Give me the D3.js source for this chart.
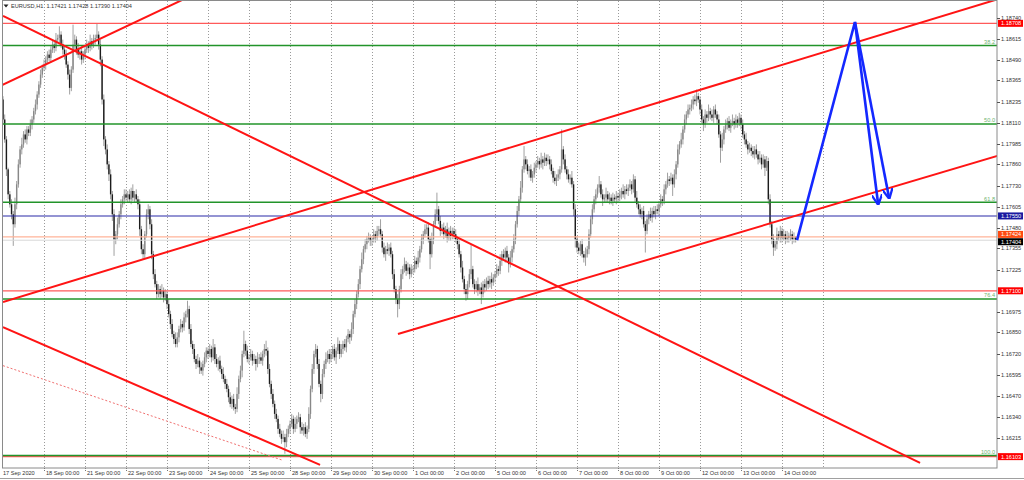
<!DOCTYPE html>
<html><head><meta charset="utf-8">
<script src="https://cdn.jsdelivr.net/npm/d3@7"></script>
<style>html,body{margin:0;padding:0;background:#fff;}svg{display:block;}</style>
</head><body>
<svg id="c" width="1024" height="480"></svg>
<script>
// ---------- DATA ----------
const symbolTitle = "EURUSD,H1";
const lastOHLC = ["1.17421", "1.17428", "1.17390", "1.17404"];
const dayLabels = ["17 Sep 2020","18 Sep 00:00","21 Sep 00:00","22 Sep 00:00","23 Sep 00:00","24 Sep 00:00","25 Sep 00:00","28 Sep 00:00","29 Sep 00:00","30 Sep 00:00","1 Oct 00:00","2 Oct 00:00","5 Oct 00:00","6 Oct 00:00","7 Oct 00:00","8 Oct 00:00","9 Oct 00:00","12 Oct 00:00","13 Oct 00:00","14 Oct 00:00"];
const barsPerDay = 24;
const priceTicks = [1.18740,1.18615,1.18490,1.18365,1.18235,1.18110,1.17985,1.17860,1.17730,1.17605,1.17480,1.17355,1.17225,1.16975,1.16850,1.16720,1.16595,1.16470,1.16340,1.16215];
const firstOpen = 1.1825;
const closes = [
1.1813,1.1801,1.1783,1.1768,1.1762,1.1756,1.1750,1.1762,1.1774,1.1786,1.1795,1.1798,1.1804,1.1801,1.1807,1.1805,1.1810,1.1813,1.1818,1.1822,1.1828,1.1834,1.1840,1.1844,
1.1846,1.1849,1.1852,1.1850,1.1855,1.1858,1.1856,1.1861,1.1862,1.1864,1.1858,1.1855,1.1852,1.1846,1.1840,1.1832,1.1843,1.1858,1.1861,1.1855,1.1852,1.1854,1.1849,1.1852,
1.1855,1.1858,1.1856,1.1860,1.1858,1.1861,1.1862,1.1864,1.1858,1.1849,1.1825,1.1801,1.1795,1.1786,1.1780,1.1768,1.1756,1.1741,1.1744,1.1750,1.1756,1.1762,1.1765,1.1768,
1.1766,1.1768,1.1765,1.1770,1.1766,1.1768,1.1765,1.1762,1.1747,1.1735,1.1732,1.1744,1.1756,1.1759,1.1750,1.1732,1.1720,1.1714,1.1708,1.1711,1.1708,1.1710,1.1706,1.1708,
1.1702,1.1696,1.1690,1.1684,1.1681,1.1678,1.1682,1.1687,1.1690,1.1688,1.1694,1.1696,1.1699,1.1687,1.1678,1.1675,1.1669,1.1666,1.1668,1.1664,1.1662,1.1666,1.1670,1.1674,
1.1672,1.1675,1.1670,1.1676,1.1669,1.1666,1.1668,1.1663,1.1660,1.1657,1.1654,1.1651,1.1646,1.1642,1.1645,1.1640,1.1639,1.1648,1.1657,1.1662,1.1672,1.1678,1.1674,1.1669,
1.1670,1.1672,1.1668,1.1669,1.1666,1.1669,1.1670,1.1668,1.1672,1.1675,1.1674,1.1663,1.1654,1.1648,1.1642,1.1636,1.1633,1.1627,1.1624,1.1621,1.1622,1.1619,1.1624,1.1627,
1.1630,1.1633,1.1627,1.1630,1.1633,1.1634,1.1628,1.1626,1.1628,1.1624,1.1627,1.1636,1.1651,1.1663,1.1672,1.1675,1.1666,1.1654,1.1648,1.1660,1.1666,1.1669,1.1672,1.1669,
1.1672,1.1675,1.1670,1.1674,1.1678,1.1672,1.1675,1.1678,1.1676,1.1681,1.1684,1.1682,1.1687,1.1696,1.1702,1.1708,1.1714,1.1723,1.1729,1.1735,1.1738,1.1741,1.1742,1.1740,
1.1741,1.1744,1.1742,1.1746,1.1747,1.1744,1.1736,1.1732,1.1735,1.1734,1.1736,1.1732,1.1720,1.1711,1.1705,1.1702,1.1711,1.1720,1.1723,1.1726,1.1722,1.1724,1.1720,1.1723,
1.1723,1.1728,1.1726,1.1730,1.1735,1.1741,1.1744,1.1747,1.1748,1.1741,1.1732,1.1741,1.1750,1.1756,1.1759,1.1752,1.1746,1.1748,1.1744,1.1747,1.1742,1.1746,1.1743,1.1746,
1.1744,1.1741,1.1738,1.1732,1.1724,1.1717,1.1711,1.1708,1.1714,1.1720,1.1723,1.1714,1.1711,1.1714,1.1710,1.1712,1.1708,1.1714,1.1712,1.1716,1.1714,1.1717,1.1715,1.1718,
1.1720,1.1723,1.1722,1.1728,1.1732,1.1730,1.1734,1.1730,1.1726,1.1730,1.1735,1.1741,1.1750,1.1758,1.1765,1.1772,1.1783,1.1789,1.1786,1.1782,1.1783,1.1778,1.1780,1.1784,
1.1786,1.1788,1.1786,1.1789,1.1787,1.1790,1.1788,1.1789,1.1786,1.1782,1.1778,1.1776,1.1778,1.1780,1.1783,1.1795,1.1789,1.1783,1.1780,1.1777,1.1778,1.1774,1.1759,1.1741,
1.1736,1.1734,1.1738,1.1732,1.1730,1.1732,1.1735,1.1744,1.1753,1.1759,1.1765,1.1768,1.1772,1.1774,1.1768,1.1765,1.1766,1.1768,1.1765,1.1766,1.1764,1.1766,1.1765,1.1767,
1.1766,1.1768,1.1770,1.1768,1.1771,1.1770,1.1772,1.1774,1.1771,1.1777,1.1766,1.1762,1.1759,1.1756,1.1758,1.1750,1.1746,1.1753,1.1756,1.1754,1.1758,1.1756,1.1759,1.1758,
1.1762,1.1765,1.1764,1.1771,1.1774,1.1777,1.1776,1.1778,1.1774,1.1780,1.1786,1.1795,1.1798,1.1801,1.1807,1.1813,1.1816,1.1819,1.1820,1.1822,1.1825,1.1824,1.1827,1.1825,
1.1819,1.1813,1.1810,1.1816,1.1814,1.1818,1.1816,1.1814,1.1819,1.1816,1.1813,1.1804,1.1796,1.1801,1.1807,1.1810,1.1812,1.1808,1.1811,1.1812,1.1810,1.1813,1.1811,1.1814,
1.1810,1.1804,1.1801,1.1798,1.1795,1.1796,1.1794,1.1792,1.1795,1.1792,1.1789,1.1790,1.1786,1.1789,1.1784,1.1788,1.1765,1.1750,1.1741,1.1736,1.1738,1.1744,1.1742,1.1746,
1.1742,1.1744,1.1741,1.1743,1.1742,1.1744,1.1741,1.17421,1.17404
];
// wick lengths in pips above / below the candle body
const upperWick = [
2,3,2,1,2,3,2,4,2,3,2,4,2,3,2,2,3,2,2,3,2,2,3,2,
3,2,2,3,2,3,2,4,2,5,2,3,2,3,2,3,2,12,3,2,4,2,3,2,
2,3,2,4,2,3,2,7,2,3,2,3,2,3,2,3,2,3,2,4,2,3,2,3,
3,2,3,2,4,2,3,2,3,2,3,2,3,3,2,3,2,3,2,3,2,4,2,3,
2,3,2,3,2,4,3,2,3,2,3,2,5,2,3,2,3,2,4,2,3,2,3,2,
2,3,2,5,2,3,2,3,2,4,2,3,2,3,2,3,2,4,2,3,2,8,2,3,
2,3,2,3,2,4,2,3,2,3,5,2,3,2,3,2,3,2,3,2,4,2,3,2,
2,3,2,4,2,3,2,3,2,3,2,4,2,3,2,3,2,3,2,3,2,4,2,3,
3,2,3,2,4,2,3,2,3,2,3,2,4,2,3,2,3,2,4,2,3,2,3,2,
2,3,2,3,2,6,2,3,2,4,2,3,2,3,2,3,2,3,2,4,2,3,2,3,
2,3,2,4,2,3,2,3,2,3,2,4,2,3,10,2,3,2,3,2,4,2,3,2,
2,3,2,3,2,4,2,3,2,3,15,2,3,2,4,2,3,2,3,2,3,2,4,2,
2,3,2,4,2,3,2,3,2,4,2,3,2,3,2,4,2,8,2,3,2,3,2,3,
2,3,2,4,2,3,2,3,2,3,2,4,2,3,2,12,2,3,2,3,2,4,2,3,
2,3,2,3,2,4,2,3,2,3,2,3,2,5,2,3,2,4,2,3,2,3,2,3,
2,3,2,4,2,3,2,3,2,3,2,4,2,3,2,3,2,3,2,4,2,3,2,3,
2,3,2,3,2,4,2,3,2,3,2,3,2,4,2,3,2,3,2,3,2,3,4,2,
2,3,2,3,2,4,2,3,2,3,2,3,2,4,2,3,2,3,2,4,2,3,2,3,
2,3,2,4,2,3,2,3,2,3,2,4,2,3,2,3,2,3,2,3,2,4,2,3,
2,3,2,3,2,3,2,3,0.7
];
const lowerWick = [
3,2,4,3,2,3,13,2,3,2,2,3,2,2,3,2,2,3,2,2,3,2,2,2,
2,3,2,2,3,2,3,2,2,3,2,3,3,2,3,4,2,2,3,3,2,3,3,2,
3,2,3,2,3,2,3,2,3,4,3,4,3,3,4,3,4,10,3,3,2,3,2,3,
2,3,2,3,2,3,2,3,4,3,3,3,2,3,3,3,3,2,3,2,3,2,3,2,
3,2,3,2,3,2,2,3,2,3,2,3,2,3,2,3,2,3,2,4,2,3,2,3,
3,2,3,2,3,2,4,2,3,2,3,2,3,2,3,2,3,2,3,2,4,2,3,2,
3,2,3,2,4,2,3,2,3,2,3,3,2,3,2,3,2,3,2,3,2,7,3,2,
3,2,3,2,3,2,4,2,3,2,3,2,3,2,3,2,3,2,5,3,2,3,2,3,
2,3,2,4,2,3,2,3,2,3,2,4,2,3,2,3,2,3,2,3,2,3,2,3,
3,2,3,2,3,2,3,2,4,2,3,2,3,2,3,8,3,2,3,2,3,2,3,2,
3,2,3,2,3,2,3,2,3,2,9,2,3,2,4,2,3,2,3,2,3,2,3,2,
3,2,3,2,3,2,3,4,3,2,3,2,3,2,3,2,6,2,3,2,3,2,4,2,
3,2,3,2,3,2,3,2,5,2,3,2,3,2,3,2,3,2,3,2,4,2,3,2,
3,2,3,2,4,2,3,2,3,2,3,2,3,2,3,2,3,2,3,2,3,2,4,5,
3,2,3,2,3,5,2,3,2,3,2,3,2,3,2,4,2,3,2,3,2,3,2,3,
3,2,3,2,3,2,3,2,3,2,3,2,3,2,3,2,13,2,3,2,3,2,3,2,
3,2,3,2,3,2,3,2,7,2,3,2,3,2,3,2,3,2,3,2,3,2,3,2,
3,2,4,2,3,2,3,2,3,2,3,2,9,2,3,2,3,2,3,2,3,2,3,2,
3,2,3,2,3,2,3,2,3,2,3,2,3,2,5,2,3,2,3,5,2,3,2,3,
3,2,3,2,3,2,3,2,1.4
];
const fibLabels = ["38.2", "50.0", "61.8", "76.4", "100.0"];
const fibPrices = [1.18575, 1.18103, 1.17632, 1.17051, 1.16110];
const redLevels = [1.18708, 1.17100, 1.16103];
const blueLevel = 1.17550;
const salmonLevel = 1.17424;
const salmonLabel = "1.17424";
const bidPrice = 1.17404;
// trend lines as [barIndex, price] endpoints
const trendLines = [
  [[-1.8, 1.18331], [104.8, 1.18848]],
  [[0, 1.18752], [536.8, 1.16065]],
  [[0, 1.16882], [185.6, 1.16053]],
  [[0, 1.17033], [580.7, 1.18848]],
  [[231.2, 1.16840], [589.5, 1.17934]]
];
const dottedLine = [[0, 1.16650], [164.0, 1.16080]];
const arrowPaths = [
  [[464.8, 1.17405], [498.7, 1.18716], [512.2, 1.17628]],
  [[498.7, 1.18716], [518.6, 1.17664]]
];

// ---------- CHART ----------
const W = 1024, H = 480;
const plot = {l: 3, r: 997, t: 1, b: 468};
const x = d3.scaleLinear().domain([0, barsPerDay]).range([3, 44]);
const y = d3.scaleLinear().domain([1.16215, 1.18740]).range([438, 18]);
const FONT = "'Liberation Sans', Arial, sans-serif";
const FS = 5.6;

const svg = d3.select('#c');
const defs = svg.append('defs');
defs.append('clipPath').attr('id', 'clip').append('rect')
  .attr('x', plot.l).attr('y', plot.t).attr('width', plot.r - plot.l).attr('height', plot.b - plot.t);
defs.append('marker').attr('id', 'arr').attr('viewBox', '0 0 10 10').attr('refX', 8).attr('refY', 5)
  .attr('markerWidth', 4).attr('markerHeight', 4).attr('orient', 'auto-start-reverse')
  .append('path').attr('d', 'M0,0 L10,5 L0,10').attr('fill', 'none').attr('stroke', '#1428ff').attr('stroke-width', 2.2);

svg.append('rect').attr('width', W).attr('height', H).attr('fill', '#fff');

const g = svg.append('g').attr('clip-path', 'url(#clip)');

// vertical dotted grid
const gridIdx = d3.range(1, dayLabels.length + 1);
g.selectAll('line.grid').data(gridIdx).join('line')
  .attr('x1', k => Math.round(x(k * barsPerDay)) + 0.5).attr('x2', k => Math.round(x(k * barsPerDay)) + 0.5)
  .attr('y1', plot.t).attr('y2', plot.b)
  .attr('stroke', '#9a9a9a').attr('stroke-width', 1).attr('stroke-dasharray', '1,2');

// candles
const bars = closes.map((c, i) => {
  const o = i === 0 ? firstOpen : closes[i - 1];
  const top = Math.max(o, c), bot = Math.min(o, c);
  return {i, o, c, h: top + upperWick[i] / 10000, l: bot - lowerWick[i] / 10000};
});
g.selectAll('line.wick').data(bars).join('line')
  .attr('x1', d => x(d.i)).attr('x2', d => x(d.i))
  .attr('y1', d => y(d.h)).attr('y2', d => y(d.l))
  .attr('stroke', '#a0a0a0').attr('stroke-width', 1);
g.selectAll('rect.body').data(bars).join('rect')
  .attr('x', d => x(d.i) - 0.7).attr('width', 1.4)
  .attr('y', d => y(Math.max(d.o, d.c)))
  .attr('height', d => Math.max(1, Math.abs(y(d.o) - y(d.c))))
  .attr('fill', d => d.c >= d.o ? '#888888' : '#1c1c1c');

// horizontal levels
function hline(p, color, w) {
  g.append('line').attr('x1', plot.l).attr('x2', plot.r).attr('y1', y(p)).attr('y2', y(p))
    .attr('stroke', color).attr('stroke-width', w);
}
hline(salmonLevel, '#ffb399', 1.3);
hline(bidPrice, '#d8d8d8', 1);
redLevels.forEach(p => hline(p, '#ff5a5a', 1.3));
fibPrices.forEach(p => hline(p, '#22942a', 1.5));
hline(blueLevel, '#2a2aa8', 1.1);

// fib labels
g.selectAll('text.fib').data(fibPrices).join('text')
  .attr('x', plot.r - 2).attr('y', d => y(d) - 1.5)
  .attr('text-anchor', 'end').attr('font-family', FONT).attr('font-size', FS)
  .attr('fill', '#6db36d').text((d, i) => fibLabels[i]);

// trend lines
const line = d3.line().x(d => x(d[0])).y(d => y(d[1]));
g.append('path').attr('d', line(dottedLine)).attr('fill', 'none')
  .attr('stroke', '#f07070').attr('stroke-width', 1).attr('stroke-dasharray', '2,2');
g.selectAll('path.trend').data(trendLines).join('path')
  .attr('d', line).attr('fill', 'none').attr('stroke', '#ff1414').attr('stroke-width', 2);

// blue arrows
g.selectAll('path.arrow').data(arrowPaths).join('path')
  .attr('d', line).attr('fill', 'none').attr('stroke', '#1428ff').attr('stroke-width', 2.6)
  .attr('stroke-linejoin', 'miter').attr('marker-end', 'url(#arr)');

// frame
svg.append('rect').attr('x', plot.l - 0.5).attr('y', plot.t - 0.5)
  .attr('width', plot.r - plot.l + 0.5).attr('height', plot.b - plot.t + 0.5)
  .attr('fill', 'none').attr('stroke', '#8a8a8a').attr('stroke-width', 1);
svg.append('line').attr('x1', 0).attr('x2', W).attr('y1', 478.5).attr('y2', 478.5)
  .attr('stroke', '#a0a0a0').attr('stroke-width', 1);

// right price axis
const ya = svg.append('g');
ya.selectAll('line.t').data(priceTicks).join('line')
  .attr('x1', plot.r).attr('x2', plot.r + 3).attr('y1', d => Math.round(y(d)) + 0.5).attr('y2', d => Math.round(y(d)) + 0.5)
  .attr('stroke', '#555').attr('stroke-width', 1);
ya.selectAll('text.t').data(priceTicks).join('text')
  .attr('x', plot.r + 4).attr('y', d => y(d)).attr('dy', '0.35em')
  .attr('font-family', FONT).attr('font-size', FS).attr('fill', '#333')
  .text(d => d.toFixed(5));

function priceBox(yy, bg, label) {
  ya.append('rect').attr('x', plot.r + 1).attr('y', yy - 3.5).attr('width', 25).attr('height', 7).attr('fill', bg);
  ya.append('text').attr('x', plot.r + 4).attr('y', yy).attr('dy', '0.35em')
    .attr('font-family', FONT).attr('font-size', FS).attr('fill', '#fff').text(label);
}
priceBox(y(redLevels[0]), '#ff0000', redLevels[0].toFixed(5));
priceBox(y(blueLevel), '#1a1aa0', blueLevel.toFixed(5));
priceBox(y(salmonLevel) - 2.5, '#ff4a10', salmonLabel);
priceBox(y(bidPrice) + 1.5, '#000000', bidPrice.toFixed(5));
priceBox(y(redLevels[1]), '#ff0000', redLevels[1].toFixed(5));
priceBox(y(redLevels[2]), '#ff0000', redLevels[2].toFixed(5));

// bottom time axis
const xa = svg.append('g');
xa.selectAll('line.t').data(gridIdx.slice(0, dayLabels.length - 1)).join('line')
  .attr('x1', k => Math.round(x(k * barsPerDay)) + 0.5).attr('x2', k => Math.round(x(k * barsPerDay)) + 0.5)
  .attr('y1', plot.b).attr('y2', plot.b + 3).attr('stroke', '#777').attr('stroke-dasharray', '1,1');
xa.selectAll('text.t').data(dayLabels).join('text')
  .attr('x', (d, k) => k === 0 ? 3 : x(k * barsPerDay) + 2)
  .attr('y', 475).attr('font-family', FONT).attr('font-size', FS).attr('fill', '#333')
  .text(d => d);

// header
svg.append('path').attr('d', 'M3.5,4.5 L8.5,4.5 L6,7.5 Z').attr('fill', '#222');
svg.append('text').attr('x', 11).attr('y', 7.5).attr('font-family', FONT).attr('font-size', FS)
  .attr('fill', '#333').attr('xml:space', 'preserve')
  .text(symbolTitle + '  ' + lastOHLC.join(' '));
</script>
</body></html>
